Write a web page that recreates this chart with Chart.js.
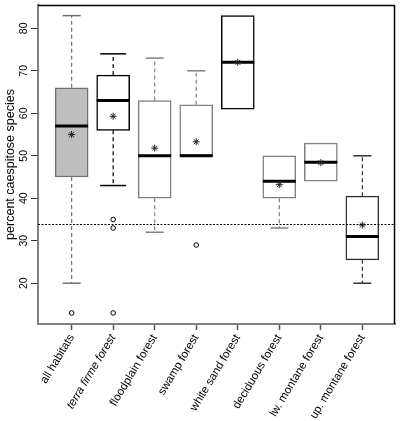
<!DOCTYPE html>
<html>
<head>
<meta charset="utf-8">
<script src="https://cdn.jsdelivr.net/npm/chart.js@4"></script>
<style>
  html, body { margin: 0; padding: 0; background: #fff; }
  #wrap { width: 400px; height: 421px; }
</style>
</head>
<body>
<div id="wrap"><canvas id="myChart"></canvas></div>
<script>
// box plot values
const habitats = ['all habitats', 'terra firme forest', 'floodplain forest', 'swamp forest',
    'white sand forest', 'deciduous forest', 'lw. montane forest', 'up. montane forest'];
const q1 = [45, 56, 40, 50, 61, 40, 44, 25.5];
const medians = [57, 63, 50, 50, 72, 44, 48.5, 31];
const q3 = [66, 69, 63, 62, 83, 50, 53, 40.5];
const lowWhisker = [20, 43, 32, null, null, 33, null, 20];
const highWhisker = [83, 74, 73, 70, null, null, null, 50];
const means = [55, 59.3, 51.8, 53.3, 72, 43.2, 48.4, 33.7];
const outliers = [[13], [35, 33, 13], [], [29], [], [], [], []];
const refLine = 33.9;
const yTicks = [20, 30, 40, 50, 60, 70, 80];

const edgeColors = ['#707070', '#000', '#808080', '#808080', '#000', '#808080', '#808080', '#333'];
const font = 'Liberation Sans';

let boxData = habitats.map((h, i) => ({ x: i, y: [q1[i], q3[i]] }));
let meanData = habitats.map((h, i) => ({ x: i, y: means[i] }));
let outData = [];
outliers.forEach((list, i) => list.forEach(v => outData.push({ x: i, y: v })));

function line(ctx, x1, y1, x2, y2)
{
    ctx.beginPath();
    ctx.moveTo(x1, y1);
    ctx.lineTo(x2, y2);
    ctx.stroke();
}

const boxParts = {
    id: 'boxParts',
    afterDatasetDraw(chart, args) {
        if (args.index !== 0) return;
        const ctx = chart.ctx;
        const xs = chart.scales.x, ys = chart.scales.y;
        ctx.save();
        habitats.forEach((h, i) => {
            const x = xs.getPixelForValue(i);
            const cap = i === 1 ? 13 : 9;
            ctx.strokeStyle = edgeColors[i];
            ctx.lineWidth = 1.2;
            ctx.setLineDash([4, 3]);
            if (highWhisker[i] !== null) line(ctx, x, ys.getPixelForValue(q3[i]), x, ys.getPixelForValue(highWhisker[i]));
            if (lowWhisker[i] !== null) line(ctx, x, ys.getPixelForValue(q1[i]), x, ys.getPixelForValue(lowWhisker[i]));
            ctx.setLineDash([]);
            ctx.lineWidth = 1.5;
            if (highWhisker[i] !== null) line(ctx, x - cap, ys.getPixelForValue(highWhisker[i]), x + cap, ys.getPixelForValue(highWhisker[i]));
            if (lowWhisker[i] !== null) line(ctx, x - cap, ys.getPixelForValue(lowWhisker[i]), x + cap, ys.getPixelForValue(lowWhisker[i]));
            // median
            ctx.strokeStyle = '#000';
            ctx.lineWidth = 3;
            line(ctx, x - 16.5, ys.getPixelForValue(medians[i]), x + 16.5, ys.getPixelForValue(medians[i]));
        });
        ctx.restore();
    },
    afterDraw(chart) {
        const ctx = chart.ctx;
        const a = chart.chartArea;
        const ys = chart.scales.y;
        ctx.save();
        // reference line
        ctx.strokeStyle = '#000';
        ctx.lineWidth = 1;
        ctx.setLineDash([2, 1.5]);
        const yr = Math.round(ys.getPixelForValue(refLine)) + 0.5;
        line(ctx, a.left, yr, a.right, yr);
        ctx.setLineDash([]);
        // top and right frame
        ctx.lineWidth = 1.5;
        line(ctx, a.left, a.top + 0.5, a.right, a.top + 0.5);
        line(ctx, a.right - 0.5, a.top, a.right - 0.5, a.bottom);
        // y tick labels, rotated
        ctx.fillStyle = '#000';
        ctx.font = '10.5px "' + font + '"';
        ctx.textAlign = 'center';
        ctx.textBaseline = 'middle';
        yTicks.forEach(v => {
            ctx.save();
            ctx.translate(24, ys.getPixelForValue(v));
            ctx.rotate(-Math.PI / 2);
            ctx.fillText(String(v), 0, 0);
            ctx.restore();
        });
        ctx.restore();
    }
};

new Chart(document.getElementById('myChart'), {
    type: 'bar',
    data: {
        datasets: [
            {
                label: 'box',
                data: boxData,
                backgroundColor: habitats.map((h, i) => i === 0 ? '#bebebe' : '#fff'),
                borderColor: edgeColors,
                borderWidth: 1.5,
                borderSkipped: false,
                barThickness: 33,
                order: 3
            },
            {
                type: 'scatter',
                label: 'mean',
                data: meanData,
                pointStyle: 'star',
                radius: 3.5,
                borderColor: '#222',
                borderWidth: 1,
                order: 1
            },
            {
                type: 'scatter',
                label: 'outliers',
                data: outData,
                pointStyle: 'circle',
                radius: 2.3,
                backgroundColor: 'rgba(0,0,0,0)',
                borderColor: '#000',
                borderWidth: 1,
                order: 2
            }
        ]
    },
    plugins: [boxParts],
    options: {
        responsive: true,
        maintainAspectRatio: false,
        animation: false,
        layout: { padding: { top: 1, right: 1, left: 0, bottom: 0 } },
        plugins: {
            legend: { display: false },
            tooltip: { enabled: false }
        },
        scales: {
            x: {
                type: 'linear',
                min: -0.81,
                max: 7.786,
                offset: false,
                afterBuildTicks: (scale) => { scale.ticks = habitats.map((h, i) => ({ value: i })); },
                afterFit: (scale) => {
                    scale.height = 97;
                    scale.paddingLeft = 0;
                    scale.paddingRight = 0;
                },
                border: { display: true, color: '#808080', width: 2 },
                grid: { offset: false, drawOnChartArea: false, drawTicks: true, tickLength: 6, tickColor: '#555', tickWidth: 1.5 },
                ticks: {
                    autoSkip: false,
                    minRotation: 59,
                    maxRotation: 59,
                    padding: 2,
                    color: '#000',
                    font: (c) => ({ family: font, size: 11.5, style: c.index === 1 ? 'italic' : 'normal' }),
                    callback: (v) => habitats[v]
                }
            },
            y: {
                min: 10.4,
                max: 85.5,
                afterBuildTicks: (scale) => { scale.ticks = yTicks.map(v => ({ value: v })); },
                afterFit: (scale) => {
                    scale.width = 38;
                    scale.paddingTop = 0;
                    scale.paddingBottom = 0;
                },
                border: { display: true, color: '#808080', width: 2 },
                grid: { drawOnChartArea: false, drawTicks: true, tickLength: 7, tickColor: '#333', tickWidth: 1 },
                ticks: { display: false },
                title: {
                    display: true,
                    text: 'percent caespitose species',
                    color: '#000',
                    font: { family: font, size: 12.5 },
                    padding: { top: 3, bottom: 0 }
                }
            }
        }
    }
});
</script>
</body>
</html>
